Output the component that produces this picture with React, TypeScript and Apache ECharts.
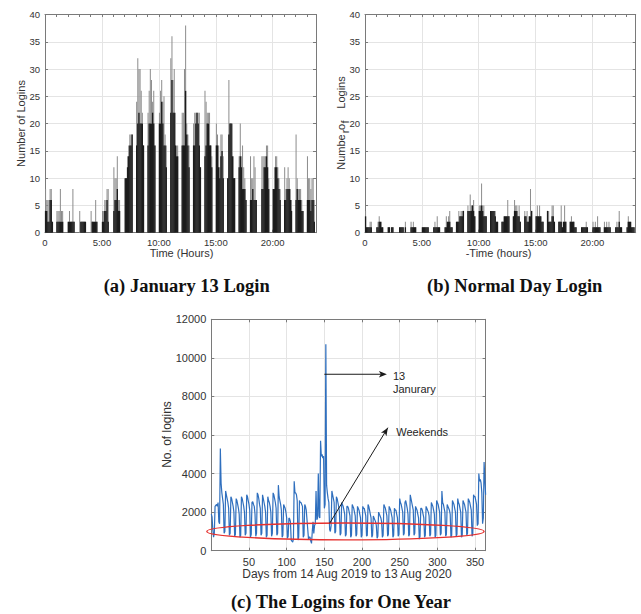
import React, { useEffect, useRef } from 'react';
import * as echarts from 'echarts';

// ---------- data ----------
const BIN_WIDTH = 0.1; // hours per sub-bin (7 sub-bins per hour cluster)

// January 13 logins: per hour, 7 sub-bins (dark core and grey spikes)
const janBlack: number[][] = [
  [4, 4, 2, 2, 6, 6, 2],
  [2, 2, 2, 2, 2, 2, 0],
  [2, 2, 2, 2, 2, 2, 0],
  [0, 2, 2, 2, 2, 2, 0],
  [0, 2, 2, 2, 2, 2, 0],
  [2, 2, 4, 4, 6, 2, 0],
  [4, 6, 6, 8, 4, 4, 0],
  [10, 10, 12, 14, 16, 16, 18],
  [16, 20, 22, 20, 20, 20, 16],
  [16, 20, 20, 20, 22, 20, 16],
  [20, 20, 24, 20, 16, 16, 12],
  [22, 28, 22, 22, 16, 14, 14],
  [16, 16, 16, 26, 18, 16, 12],
  [16, 16, 20, 22, 20, 16, 12],
  [14, 16, 20, 20, 16, 16, 12],
  [16, 16, 12, 10, 14, 15, 10],
  [10, 18, 20, 20, 14, 10, 10],
  [12, 14, 12, 8, 8, 8, 6],
  [6, 6, 8, 6, 6, 6, 0],
  [8, 8, 12, 12, 14, 12, 8],
  [8, 8, 12, 12, 10, 8, 6],
  [6, 6, 8, 8, 8, 6, 4],
  [6, 8, 6, 6, 6, 4, 4],
  [6, 6, 6, 4, 6, 6, 2],
];
const janGrey: number[][] = [
  [8, 6, 6, 6, 8, 8, 2],
  [4, 4, 4, 8, 4, 4, 0],
  [2, 4, 2, 2, 8, 2, 0],
  [4, 2, 2, 2, 2, 2, 0],
  [4, 2, 2, 2, 6, 2, 0],
  [4, 4, 6, 6, 8, 8, 0],
  [12, 10, 10, 14, 6, 6, 0],
  [10, 10, 14, 16, 18, 18, 18],
  [24, 32, 30, 30, 26, 22, 16],
  [22, 26, 30, 28, 24, 26, 16],
  [22, 26, 28, 24, 25, 18, 16],
  [32, 36, 28, 30, 22, 16, 16],
  [22, 22, 30, 38, 20, 18, 16],
  [20, 22, 22, 22, 22, 22, 12],
  [26, 24, 22, 22, 22, 16, 14],
  [20, 18, 16, 12, 18, 18, 14],
  [10, 28, 20, 20, 20, 14, 10],
  [14, 20, 14, 16, 12, 10, 6],
  [14, 10, 10, 14, 12, 6, 0],
  [14, 14, 14, 14, 16, 16, 10],
  [8, 12, 14, 14, 12, 10, 8],
  [12, 8, 10, 12, 10, 8, 6],
  [18, 10, 8, 8, 8, 6, 4],
  [14, 10, 10, 8, 10, 10, 6],
];

// Normal day logins
const normBlack: number[][] = [
  [3, 1, 1, 1, 1, 1, 0],
  [1, 1, 2, 2, 1, 1, 0],
  [1, 1, 0, 1, 1, 0, 0],
  [1, 1, 1, 1, 0, 1, 0],
  [1, 1, 1, 1, 1, 0, 0],
  [1, 1, 1, 1, 1, 1, 0],
  [1, 1, 1, 1, 1, 1, 0],
  [1, 1, 2, 2, 2, 1, 1],
  [2, 2, 2, 3, 3, 3, 4],
  [4, 4, 4, 4, 5, 4, 3],
  [4, 4, 5, 4, 3, 3, 3],
  [4, 4, 4, 4, 3, 2, 2],
  [2, 2, 3, 3, 3, 3, 3],
  [3, 4, 4, 4, 3, 3, 2],
  [3, 3, 2, 2, 3, 3, 4],
  [3, 3, 3, 3, 3, 2, 2],
  [4, 2, 2, 2, 3, 3, 2],
  [2, 2, 2, 1, 2, 2, 2],
  [2, 2, 2, 2, 1, 1, 0],
  [1, 1, 1, 1, 1, 1, 0],
  [1, 1, 1, 1, 1, 1, 1],
  [1, 1, 1, 1, 1, 1, 0],
  [1, 1, 1, 2, 1, 1, 0],
  [1, 2, 2, 2, 1, 1, 1],
];
const normGrey: number[][] = [
  [4, 1, 1, 1, 2, 2, 0],
  [1, 2, 3, 2, 2, 1, 0],
  [1, 1, 0, 1, 1, 0, 0],
  [1, 1, 1, 1, 0, 2, 0],
  [2, 1, 2, 1, 1, 0, 0],
  [1, 1, 1, 1, 1, 1, 0],
  [1, 2, 1, 3, 1, 1, 0],
  [1, 3, 2, 3, 4, 1, 1],
  [2, 2, 4, 3, 4, 4, 4],
  [5, 4, 7, 5, 5, 6, 3],
  [5, 5, 9, 5, 5, 3, 3],
  [4, 4, 4, 4, 4, 2, 2],
  [2, 2, 3, 3, 3, 6, 3],
  [3, 6, 5, 5, 3, 5, 2],
  [4, 3, 4, 2, 3, 8, 4],
  [3, 5, 3, 5, 3, 2, 2],
  [4, 4, 2, 2, 5, 5, 2],
  [2, 2, 5, 1, 2, 5, 2],
  [2, 3, 2, 2, 1, 1, 0],
  [1, 1, 1, 1, 2, 1, 0],
  [2, 1, 2, 1, 3, 1, 1],
  [2, 1, 2, 1, 2, 1, 0],
  [1, 2, 1, 4, 1, 1, 0],
  [1, 3, 2, 2, 1, 1, 1],
];

// Daily logins, 14 Aug 2019 .. 13 Aug 2020 (index 0 = 14 Aug 2019)
const yearLogins: number[] = [
  1900, 1750, 1100, 700, 900,
  2300, 2350, 2400, 2300, 2500, 1500, 1400,
  5300, 3500, 3000, 2700, 2400, 900, 1000,
  3100, 2900, 2700, 2500, 2200, 800, 900,
  2800, 2700, 2500, 2300, 2000, 750, 850,
  2700, 2600, 2400, 2200, 1900, 700, 800,
  2800, 2700, 2500, 2300, 2000, 800, 900,
  2900, 2800, 2600, 2400, 2100, 700, 850,
  2500, 2550, 2400, 2300, 1900, 750, 900,
  3000, 2900, 2700, 2400, 2200, 800, 900,
  2900, 2700, 2500, 2300, 2000, 700, 800,
  2800, 2600, 2500, 2300, 2000, 750, 900,
  3000, 2900, 2700, 2500, 2200, 800, 900,
  3400, 2800, 2600, 2400, 2100, 700, 800,
  2400, 2300, 2200, 2000, 1700, 650, 750,
  1700, 1650, 1500, 550, 500, 450, 600,
  3600, 3000, 3000, 2900, 2600, 550, 700,
  2600, 2500, 2500, 2400, 2300, 700, 800,
  2400, 2300, 2100, 1600, 1100, 600, 700,
  700, 500, 380, 1000, 1500, 900, 1300,
  1400, 3100, 1600, 1700, 4000, 1800, 1700,
  5700, 4900, 5000, 4800, 4900, 2200, 2400,
  10700, 3400, 3000, 2700, 2500, 1100, 1000,
  1300, 3100, 2900, 2700, 2500, 900, 1000,
  2800, 2700, 2500, 2300, 2000, 800, 900,
  2500, 2400, 2300, 2100, 1900, 750, 850,
  2300, 2300, 2200, 2000, 1800, 700, 800,
  2400, 2300, 2200, 2000, 1800, 750, 850,
  2300, 2200, 2100, 1900, 1700, 700, 800,
  2300, 2200, 2200, 2000, 1800, 750, 800,
  2400, 2300, 2100, 1900, 1700, 700, 800,
  1800, 1700, 1600, 1500, 1300, 650, 750,
  2000, 1900, 1800, 1700, 1500, 700, 800,
  2400, 2300, 2200, 2000, 1800, 750, 850,
  2300, 2200, 2100, 1900, 1700, 700, 800,
  2200, 2100, 2100, 1900, 1700, 750, 850,
  2700, 2500, 2400, 2200, 2000, 800, 900,
  2500, 2600, 2400, 2200, 1900, 750, 850,
  2900, 2700, 2500, 2300, 2100, 800, 900,
  2300, 2200, 2100, 1900, 1700, 600, 750,
  2200, 2200, 2100, 1900, 1700, 700, 800,
  2300, 2200, 2100, 2000, 1800, 750, 850,
  2500, 2400, 2300, 2100, 1900, 700, 800,
  2600, 2500, 2400, 2200, 2000, 800, 900,
  3100, 2500, 2400, 2200, 2000, 750, 850,
  2400, 2300, 2200, 2100, 1900, 700, 800,
  2600, 2500, 2400, 2200, 2000, 750, 850,
  2700, 2500, 2400, 2200, 2000, 700, 800,
  2600, 2500, 2400, 2200, 2000, 800, 900,
  2700, 2600, 2500, 2300, 2100, 750, 850,
  2900, 2800, 2800, 2600, 2400, 1300, 1400,
  4000, 3600, 3700, 3500, 3000, 1400, 1700,
  4600, 3700, 2900,
];

const hourTickValues = [0, 5, 10, 15, 20];
const dayTickValues = [50, 100, 150, 200, 250, 300, 350];

// annotations (data coordinates of chart c)
const janArrow = { from: [150, 9150], to: [229, 9150] };
const janText = [{ text: '13', at: [241, 9080] }, { text: 'Janurary', at: [241, 8390] }];
const weekendArrow = { from: [157, 1420], to: [234.3, 6380] };
const weekendText = { text: 'Weekends', at: [245.5, 6160] };
const weekendEllipse = { center: [178, 1000], halfDays: 184, halfValue: 440 };

// ---------- styles ----------
const FONT = "'Liberation Sans', Arial, Helvetica, sans-serif";
const SERIF = "'Liberation Serif', 'Times New Roman', serif";
const FRAME = '#7a7a7a';
const GRID = '#e4e4e4';
const TXT = '#333333';

function toBars(clusters: number[][]) {
  const out: number[][] = [];
  clusters.forEach((bins, h) => {
    bins.forEach((v, k) => {
      if (v > 0) out.push([h + BIN_WIDTH / 2 + k * BIN_WIDTH, v]);
    });
  });
  return out;
}

const lineStyle = { color: FRAME, width: 1 };

function hourAxes(gridIndex: number) {
  return [
    {
      type: 'value', gridIndex, min: 0, max: 23.8, interval: 5, position: 'bottom',
      axisLine: { show: true, onZero: false, lineStyle },
      axisTick: { show: true, inside: true, length: 3, lineStyle },
      axisLabel: {
        show: true, margin: 4.5, color: TXT, fontSize: 9.5, fontFamily: FONT, lineHeight: 10,
        formatter: (v: number) =>
          hourTickValues.includes(v) ? (v === 0 ? '0' : `${v}:00`) : '',
      },
      splitLine: { show: true, lineStyle: { color: GRID, width: 1 } },
    },
    {
      type: 'value', gridIndex, min: 0, max: 23.8, interval: 1, position: 'top',
      axisLine: { show: true, onZero: false, lineStyle },
      axisTick: { show: true, inside: true, length: 2.5, lineStyle },
      axisLabel: { show: false },
      splitLine: { show: false },
    },
  ];
}

function countAxes(gridIndex: number, max: number, interval: number, fontSize: number, margin: number) {
  return [
    {
      type: 'value', gridIndex, min: 0, max, interval, position: 'left',
      axisLine: { show: true, onZero: false, lineStyle },
      axisTick: { show: true, inside: true, length: 3, lineStyle },
      axisLabel: {
        show: true, margin, color: TXT, fontSize, fontFamily: FONT,
        formatter: (v: number) => String(v),
      },
      splitLine: { show: true, lineStyle: { color: GRID, width: 1 } },
    },
    {
      type: 'value', gridIndex, min: 0, max, interval, position: 'right',
      axisLine: { show: true, onZero: false, lineStyle },
      axisTick: { show: true, inside: true, length: 3, lineStyle },
      axisLabel: { show: false },
      splitLine: { show: false },
    },
  ];
}

function buildOption(): any {
  return {
    animation: false,
    backgroundColor: '#ffffff',
    grid: [
      { left: 45, top: 14.5, width: 271, height: 218.2 },
      { left: 365, top: 14.5, width: 270.7, height: 218.2 },
      { left: 211.3, top: 319.3, width: 274.3, height: 231.4 },
    ],
    xAxis: [
      ...hourAxes(0),
      ...hourAxes(1),
      {
        type: 'value', gridIndex: 2, min: 0, max: 364, interval: 50, position: 'bottom',
        axisLine: { show: true, onZero: false, lineStyle },
        axisTick: { show: true, inside: true, length: 3, lineStyle },
        axisLabel: {
          show: true, margin: 5.5, color: TXT, fontSize: 11, fontFamily: FONT, lineHeight: 11,
          formatter: (v: number) => (dayTickValues.includes(v) ? String(v) : ''),
        },
        splitLine: { show: true, lineStyle: { color: GRID, width: 1 } },
      },
      {
        type: 'value', gridIndex: 2, min: 0, max: 364, interval: 50, position: 'top',
        axisLine: { show: true, onZero: false, lineStyle },
        axisTick: { show: true, inside: true, length: 3, lineStyle },
        axisLabel: { show: false },
        splitLine: { show: false },
      },
    ],
    yAxis: [
      ...countAxes(0, 40, 5, 9.5, 5),
      ...countAxes(1, 40, 5, 9.5, 5),
      ...countAxes(2, 12000, 2000, 11, 5),
    ],
    series: [
      {
        type: 'bar', xAxisIndex: 1, yAxisIndex: 0, data: toBars(janGrey), barWidth: 0.9,
        itemStyle: { color: '#8c8c8c' }, silent: true, z: 2,
      },
      {
        type: 'bar', xAxisIndex: 0, yAxisIndex: 0, data: toBars(janBlack), barWidth: 1.35,
        itemStyle: { color: '#1c1c1c' }, silent: true, z: 3,
      },
      {
        type: 'bar', xAxisIndex: 3, yAxisIndex: 2, data: toBars(normGrey), barWidth: 0.9,
        itemStyle: { color: '#8c8c8c' }, silent: true, z: 2,
      },
      {
        type: 'bar', xAxisIndex: 2, yAxisIndex: 2, data: toBars(normBlack), barWidth: 1.35,
        itemStyle: { color: '#1c1c1c' }, silent: true, z: 3,
      },
      {
        type: 'line', xAxisIndex: 4, yAxisIndex: 4,
        data: yearLogins.map((v, i) => [i, v]),
        showSymbol: false, symbol: 'none', silent: true,
        lineStyle: { color: '#2f6fbe', width: 1.2 },
        z: 3,
      },
    ],
  };
}

function txt(text: string, x: number, y: number, opts: any = {}) {
  const fontSize = opts.fontSize || 11;
  return {
    type: 'text', x, y, rotation: opts.rotation || 0, z: 20,
    style: {
      text,
      fontSize,
      lineHeight: opts.lineHeight || fontSize,
      fontFamily: opts.fontFamily || FONT,
      fontWeight: opts.fontWeight || 'normal',
      fill: opts.fill || TXT,
      textAlign: opts.align || 'center',
      textVerticalAlign: 'middle',
      verticalAlign: 'middle',
    },
  };
}

function arrowHead(tip: number[], from: number[], color: string) {
  const dx = tip[0] - from[0];
  const dy = tip[1] - from[1];
  const len = Math.sqrt(dx * dx + dy * dy);
  const ux = dx / len, uy = dy / len;
  const px = -uy, py = ux;
  const back = 8, notch = 6, half = 3.2;
  const bx = tip[0] - ux * back, by = tip[1] - uy * back;
  return {
    type: 'polygon', z: 21,
    shape: {
      points: [
        [tip[0], tip[1]],
        [bx + px * half, by + py * half],
        [tip[0] - ux * notch, tip[1] - uy * notch],
        [bx - px * half, by - py * half],
      ],
    },
    style: { fill: color },
  };
}

export default function App() {
  const ref = useRef<HTMLDivElement>(null);
  useEffect(() => {
    const el = ref.current!;
    const chart = echarts.init(el, null, { renderer: 'svg' });
    chart.setOption(buildOption());
    const P = (d: number[]) => chart.convertToPixel({ seriesIndex: 4 }, d) as number[];

    const a1 = P(janArrow.from), a2 = P(janArrow.to);
    const w1 = P(weekendArrow.from), w2 = P(weekendArrow.to);
    const ec = P(weekendEllipse.center);
    const ee = P([weekendEllipse.center[0] + weekendEllipse.halfDays, weekendEllipse.center[1] + weekendEllipse.halfValue]);
    const ARROW = '#1a1a1a';
    const CAP = { fontSize: 18.5, fontFamily: SERIF, fontWeight: 'bold', fill: '#111' };

    const graphic: any[] = [
      // axis names
      txt('Number of Logins', 20.7, 123.5, { rotation: Math.PI / 2 }),
      txt('Time (Hours)', 181.5, 252.5, { lineHeight: 9 }),
      txt('Numbe', 340.7, 152, { rotation: Math.PI / 2 }),
      txt('r', 345, 131.5, { rotation: Math.PI / 2 }),
      txt('o', 340.7, 127, { rotation: Math.PI / 2 }),
      txt('f', 344.5, 122, { rotation: Math.PI / 2 }),
      txt('Logins', 340.7, 92.5, { rotation: Math.PI / 2 }),
      txt('-Time (hours)', 498.5, 252.5, { lineHeight: 9 }),
      txt('No. of logins', 166.7, 434.5, { rotation: Math.PI / 2, fontSize: 12 }),
      txt('Days from 14 Aug 2019 to 13 Aug 2020', 347, 574, { fontSize: 12 }),
      // captions
      txt('(a) January 13 Login', 186.7, 286.3, CAP),
      txt('(b) Normal Day Login', 514.7, 286.3, CAP),
      txt('(c) The Logins for One Year', 341, 601.5, CAP),
      // annotations
      {
        type: 'ellipse', z: 19,
        shape: { cx: ec[0], cy: ec[1], rx: Math.abs(ee[0] - ec[0]), ry: Math.abs(ee[1] - ec[1]) },
        style: { fill: 'none', stroke: '#e6302e', lineWidth: 1.4 },
      },
      {
        type: 'line', z: 20,
        shape: { x1: a1[0], y1: a1[1], x2: a2[0], y2: a2[1] },
        style: { stroke: ARROW, lineWidth: 1 },
      },
      arrowHead([a2[0] + 3, a2[1]], a1, ARROW),
      {
        type: 'line', z: 20,
        shape: { x1: w1[0], y1: w1[1], x2: w2[0], y2: w2[1] },
        style: { stroke: ARROW, lineWidth: 1 },
      },
      arrowHead(w2, w1, ARROW),
      ...janText.map((t) => {
        const p = P(t.at);
        return txt(t.text, p[0], p[1], { align: 'left', fill: '#262626' });
      }),
      (() => {
        const p = P(weekendText.at);
        return txt(weekendText.text, p[0], p[1], { align: 'left', fill: '#262626' });
      })(),
    ];
    chart.setOption({ graphic });
    return () => chart.dispose();
  }, []);

  return (
    <div
      ref={ref}
      style={{ position: 'absolute', left: 0, top: 0, width: 641, height: 614, background: '#fff' }}
    />
  );
}
